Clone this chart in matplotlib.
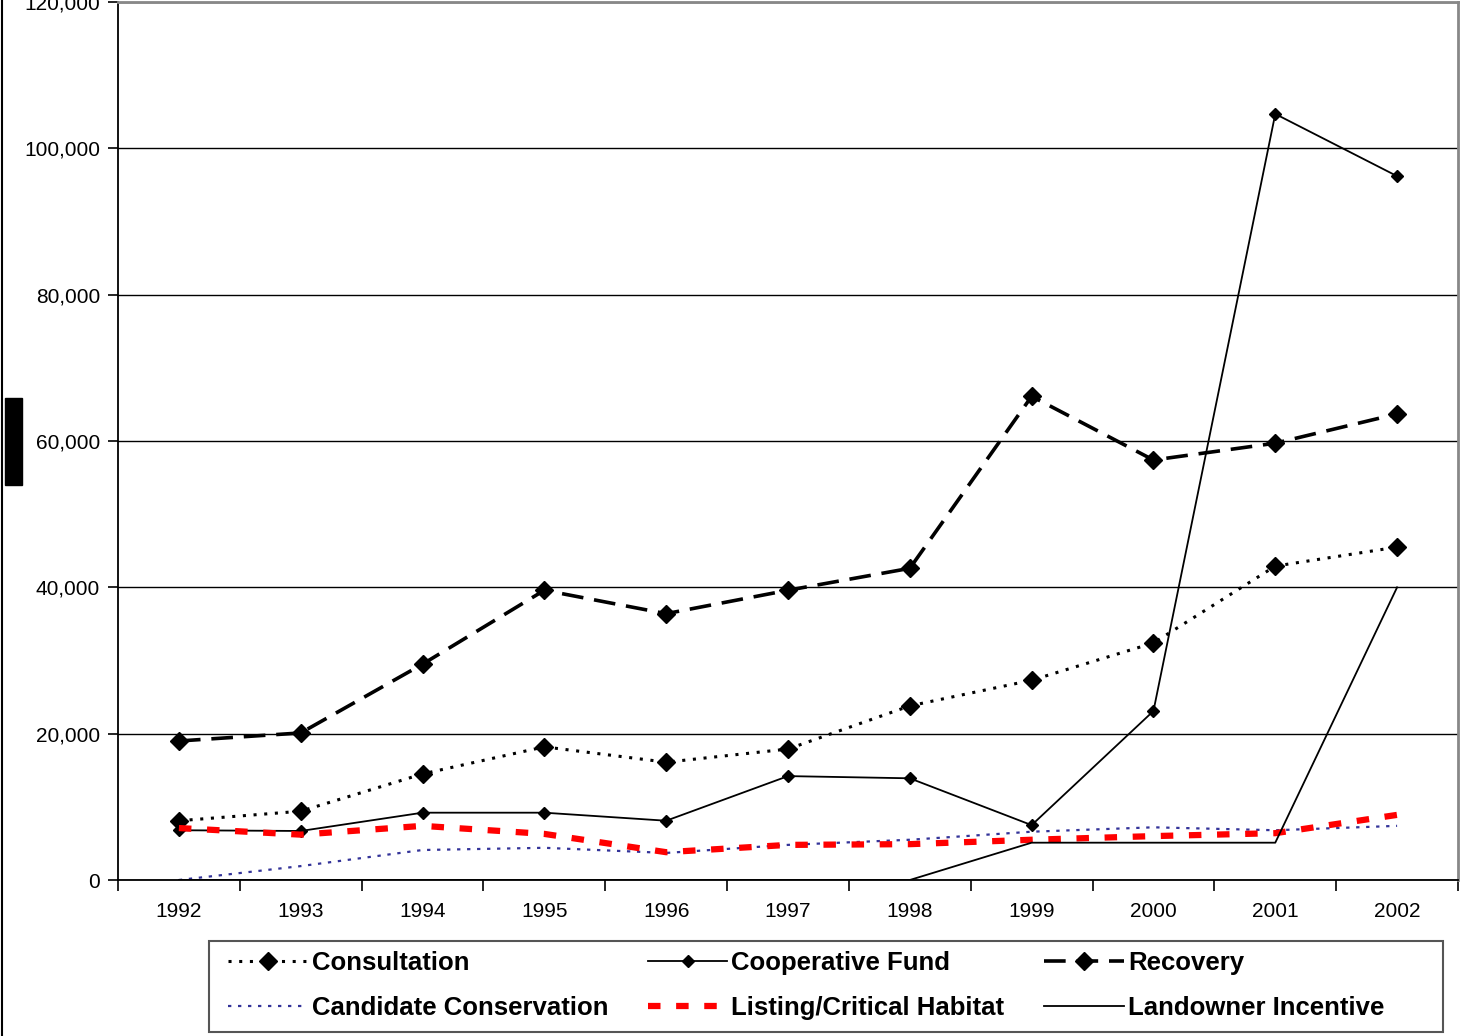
import matplotlib
matplotlib.use('Agg')
import matplotlib.pyplot as plt
import numpy as np
from matplotlib.patches import Rectangle
from matplotlib.lines import Line2D
from matplotlib.ticker import FuncFormatter, MultipleLocator

plt.rcParams['font.family'] = ['Liberation Sans', 'DejaVu Sans']

# 数据（单位：千美元）
years = ['1992', '1993', '1994', '1995', '1996', '1997', '1998', '1999', '2000', '2001', '2002']
consultation = [8100, 9400, 14500, 18200, 16100, 17900, 23800, 27300, 32400, 42900, 45500]
cooperative = [6800, 6700, 9200, 9200, 8100, 14200, 13900, 7500, 23100, 104700, 96200]
recovery = [19000, 20100, 29500, 39600, 36400, 39600, 42600, 66100, 57400, 59700, 63700]
candidate = [0, 1900, 4100, 4400, 3700, 4800, 5500, 6600, 7200, 6800, 7400]
listing = [7100, 6200, 7400, 6300, 3800, 4800, 4900, 5500, 6000, 6400, 8900]
landowner = [0, 0, 0, 0, 0, 0, 0, 5100, 5100, 5100, 40000]

fig = plt.figure(figsize=(14.7, 10.36), dpi=100)
ax = fig.add_axes([118/1470, 1-880/1036, 1340/1470, 878/1036])
x = np.arange(len(years))

l1, = ax.plot(x, consultation, color='black', linestyle=(0, (1, 2.5)), linewidth=2.2,
              marker='D', markersize=9, label='Consultation')
l2, = ax.plot(x, cooperative, color='black', linestyle='-', linewidth=1.3,
              marker='D', markersize=6, label='Cooperative Fund')
l3, = ax.plot(x, recovery, color='black', linestyle=(0, (6, 3)), linewidth=2.6,
              marker='D', markersize=9, label='Recovery')
l4, = ax.plot(x, candidate, color='#333399', linestyle=(0, (1.5, 3)), linewidth=1.6,
              label='Candidate Conservation')
l5, = ax.plot(x, listing, color='red', linestyle=(0, (2, 2.5)), linewidth=4.5,
              label='Listing/Critical Habitat')
l6, = ax.plot(x, landowner, color='black', linestyle='-', linewidth=1.3,
              label='Landowner Incentive')

ax.set_xlim(-0.5, 10.5)
ax.set_ylim(0, 120000)
ax.yaxis.set_major_locator(MultipleLocator(20000))
ax.yaxis.set_major_formatter(FuncFormatter(lambda v, p: '{:,.0f}'.format(v)))
ax.set_xticks(x)
ax.set_xticklabels(years)
ax.set_xticks(np.arange(-0.5, 11, 1), minor=True)
ax.tick_params(axis='x', which='major', length=0, pad=16, labelsize=15)
ax.tick_params(axis='x', which='minor', length=8, width=1.2, direction='out')
ax.tick_params(axis='y', length=7, width=1.2, direction='out', labelsize=15, pad=6)

ax.grid(axis='y', color='black', linewidth=1)
ax.set_axisbelow(True)
ax.spines['left'].set_color('black')
ax.spines['left'].set_linewidth(1.3)
ax.spines['bottom'].set_color('black')
ax.spines['bottom'].set_linewidth(1.3)
ax.spines['top'].set_color('#888888')
ax.spines['right'].set_color('#888888')
ax.spines['top'].set_linewidth(2)
ax.spines['right'].set_linewidth(2)

# 图例（按行排列：ncol=3 时按列填充，所以调整顺序）；边框单独画
leg = fig.legend(handles=[l1, l4, l2, l5, l3, l6], ncol=3,
                 loc='upper left', bbox_to_anchor=(228/1470, 1-951/1036),
                 frameon=False, prop={'weight': 'bold', 'size': 18.5},
                 handlelength=3.1, handletextpad=0.15, columnspacing=1.55,
                 labelspacing=0.83, borderaxespad=0, borderpad=0)
fig.patches.append(Rectangle((209/1470, 1-1032/1036), 1234/1470, 91/1036,
                             transform=fig.transFigure, facecolor='none',
                             edgecolor='#555555', linewidth=1.5))

# 左侧黑色块（被截断的 y 轴标题）和外框线
fig.patches.append(Rectangle((5/1470, 1-485/1036), 17/1470, 87/1036,
                             transform=fig.transFigure, color='black'))
fig.lines.append(Line2D([2/1470, 2/1470], [0, 1], transform=fig.transFigure,
                        color='black', linewidth=1.5))

fig.savefig('out.png', dpi=100)
